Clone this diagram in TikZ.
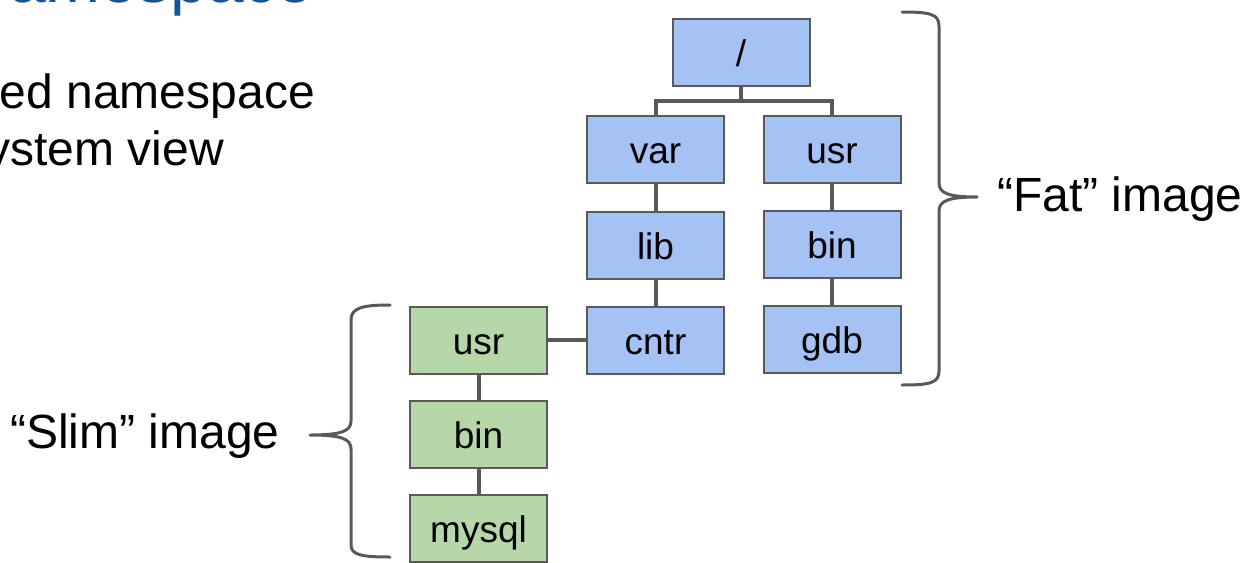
\documentclass[tikz,border=0pt]{standalone}
\usepackage{fontspec}
\setmainfont{Liberation Sans}
\begin{document}
\begin{tikzpicture}[x=1pt,y=-1pt,
  dirbox/.style={draw=linegrey, line width=2pt, minimum width=137pt, minimum height=67pt,
    inner sep=0pt, text height=32pt, text depth=4pt, font=\fontsize{37}{40}\selectfont},
  fatbox/.style={dirbox, fill=fatblue},
  slimbox/.style={dirbox, fill=slimgreen},
  link/.style={draw=linegrey, line width=4pt},
  brace/.style={draw=linegrey, line width=3pt, line cap=round, line join=round},
  biglabel/.style={inner sep=0pt, font=\fontsize{48}{56}\selectfont}]
\definecolor{linegrey}{HTML}{595959}
\definecolor{fatblue}{HTML}{A4C2F4}
\definecolor{slimgreen}{HTML}{B6D7A8}
\definecolor{titleblue}{HTML}{1155A0}
\useasboundingbox (0,0) rectangle (1249,562);

% title and bullet text
\node[biglabel, anchor=base west, text=titleblue, font=\fontsize{66}{70}\selectfont] (title) at (9,2) {amespace};
\node[biglabel, anchor=base east] (line1) at (315,108) {ed namespace};
\node[biglabel, anchor=base east] (line2) at (224,165) {ystem view};

% fat image tree
\node[fatbox] (root) at (741,52.5) {/};
\node[fatbox] (var)  at (655.5,149.5) {var};
\node[fatbox] (usr)  at (832,149.5) {usr};
\node[fatbox] (lib)  at (655.5,245) {lib};
\node[fatbox] (bin)  at (832,244.5) {bin};
\node[fatbox] (cntr) at (655.5,340) {cntr};
\node[fatbox] (gdb)  at (832,339) {gdb};

% slim image tree
\node[slimbox] (susr)   at (478.5,340) {usr};
\node[slimbox] (sbin)   at (478.5,434.5) {bin};
\node[slimbox] (smysql) at (478.5,528.5) {mysql};

% connectors
\draw[link] (root.south) -- ++(0,14) -| (var.north);
\draw[link] (root.south) -- ++(0,14) -| (usr.north);
\draw[link] (var) -- (lib);
\draw[link] (lib) -- (cntr);
\draw[link] (usr) -- (bin);
\draw[link] (bin) -- (gdb);
\draw[link] (susr) -- (cntr);
\draw[link] (susr) -- (sbin);
\draw[link] (sbin) -- (smysql);

% braces
\coordinate (fattip) at (977,197);
\coordinate (slimtip) at (310,435);
\draw[brace] (902,12) .. controls (930,12) and (939,14) .. (939,26) -- (939,183)
  .. controls (939,193) and (948,197) .. (fattip)
  (fattip) .. controls (948,197) and (939,201) .. (939,211) -- (939,371)
  .. controls (939,383) and (930,385) .. (902,385);
\draw[brace] (390,305) .. controls (362,305) and (351,308) .. (351,320) -- (351,421)
  .. controls (351,431) and (342,435) .. (slimtip)
  (slimtip) .. controls (342,435) and (351,439) .. (351,449) -- (351,545)
  .. controls (351,555) and (362,557) .. (390,557);

% brace labels
\node[biglabel, anchor=base west] (fatlabel) at (997,211) {“Fat” image};
\node[biglabel, anchor=base west] (slimlabel) at (10,448) {“Slim” image};
\end{tikzpicture}
\end{document}
